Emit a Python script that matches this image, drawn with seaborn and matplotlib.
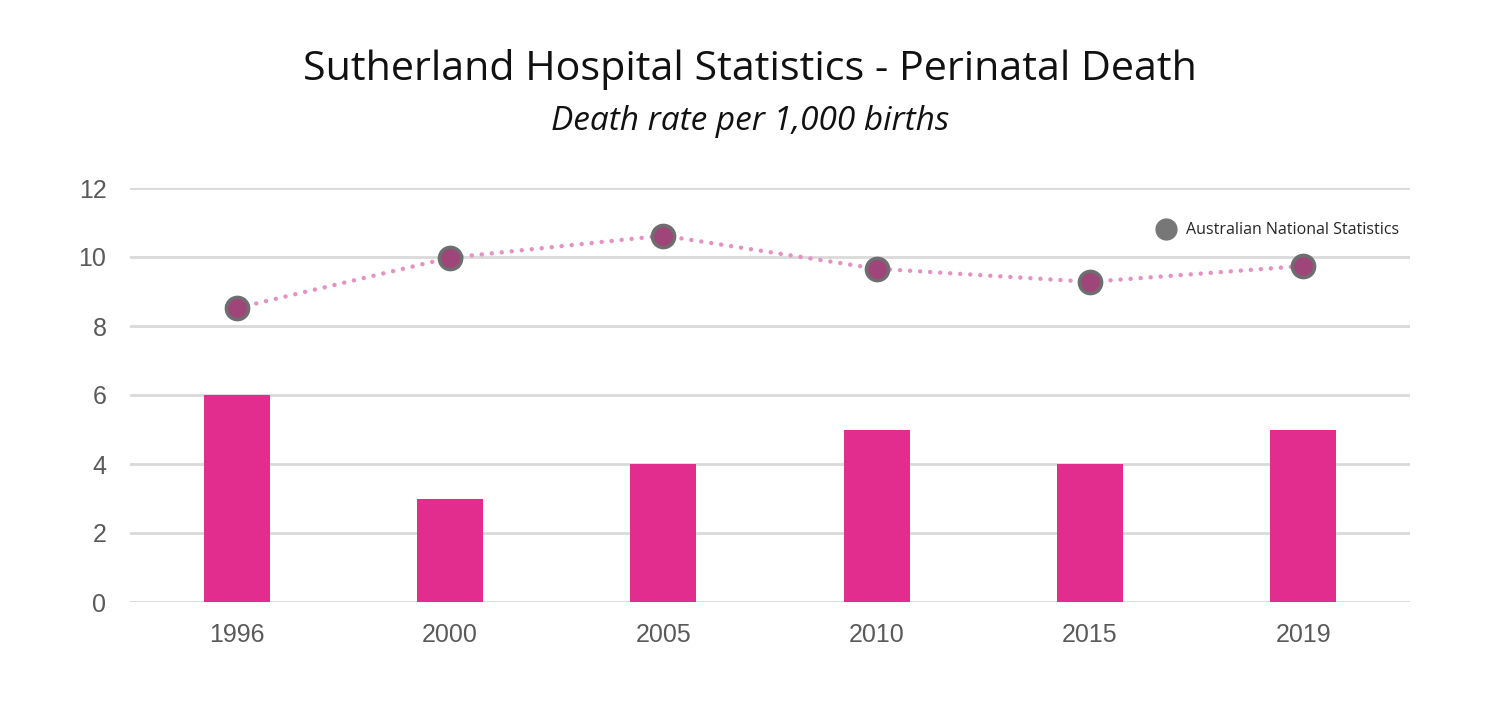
import matplotlib
matplotlib.use("Agg")
import matplotlib.pyplot as plt
from matplotlib.lines import Line2D
import seaborn as sns
import pandas as pd

years = ["1996", "2000", "2005", "2010", "2015", "2019"]
sutherland = [6, 3, 4, 5, 4, 5]
national = [8.52, 9.98, 10.62, 9.66, 9.28, 9.74]
title = "Sutherland Hospital Statistics - Perinatal Death"
subtitle = "Death rate per 1,000 births"
legend_label = "Australian National Statistics"
yticks = [0, 2, 4, 6, 8, 10, 12]

df = pd.DataFrame({"year": years, "sutherland": sutherland, "national": national})

sns.set_theme(style="white")
plt.rcParams["font.family"] = ["Liberation Sans", "DejaVu Sans"]

fig = plt.figure(figsize=(15, 7.08), dpi=100)
ax = fig.add_axes([130/1500, 106/708, 1280/1500, 414/708])

sns.barplot(data=df, x="year", y="sutherland", color="#E22D8F", saturation=1,
            width=0.31, ax=ax, zorder=2, edgecolor="none")
sns.pointplot(data=df, x="year", y="national", color="#E591C2", ax=ax,
              linestyle=(0, (0.01, 2.25)), linewidth=3.2, markersize=16,
              markers="o", zorder=4)

for ln in ax.lines:
    ln.set_dash_capstyle("round")
    ln.set_markerfacecolor("#A0457A")
    ln.set_markeredgecolor("#6E6E6E")
    ln.set_markeredgewidth(2.5)

ax.set_ylim(0, 12)
ax.set_xlim(-0.5, 5.5)
ax.set_yticks(yticks)
ax.yaxis.grid(True, color="#D9D9D9", linewidth=2)
ax.set_axisbelow(True)
for s in ax.spines.values():
    s.set_visible(False)
ax.set_xlabel("")
ax.set_ylabel("")
ax.tick_params(axis="y", length=0, pad=17, labelsize=18, labelcolor="#5A5A5A")
ax.tick_params(axis="x", length=0, pad=15, labelsize=18, labelcolor="#5A5A5A")

handle = Line2D([], [], marker="o", linestyle="none", markersize=15,
                markerfacecolor="#777777", markeredgecolor="#777777")
leg = ax.legend(handles=[handle], labels=[legend_label], loc="upper right",
                bbox_to_anchor=(1.003, 0.952), frameon=False, handletextpad=0.3,
                prop={"family": "Open Sans", "size": 11.5})

fig.text(0.5, 1 - 70/708, title, ha="center", va="center",
         family="Open Sans", fontsize=29.7, color="#111111")
fig.text(0.5, 1 - 122/708, subtitle, ha="center", va="center",
         family="Open Sans", style="italic", fontsize=24, color="#111111")

fig.savefig("out.png", dpi=100, facecolor="white")
